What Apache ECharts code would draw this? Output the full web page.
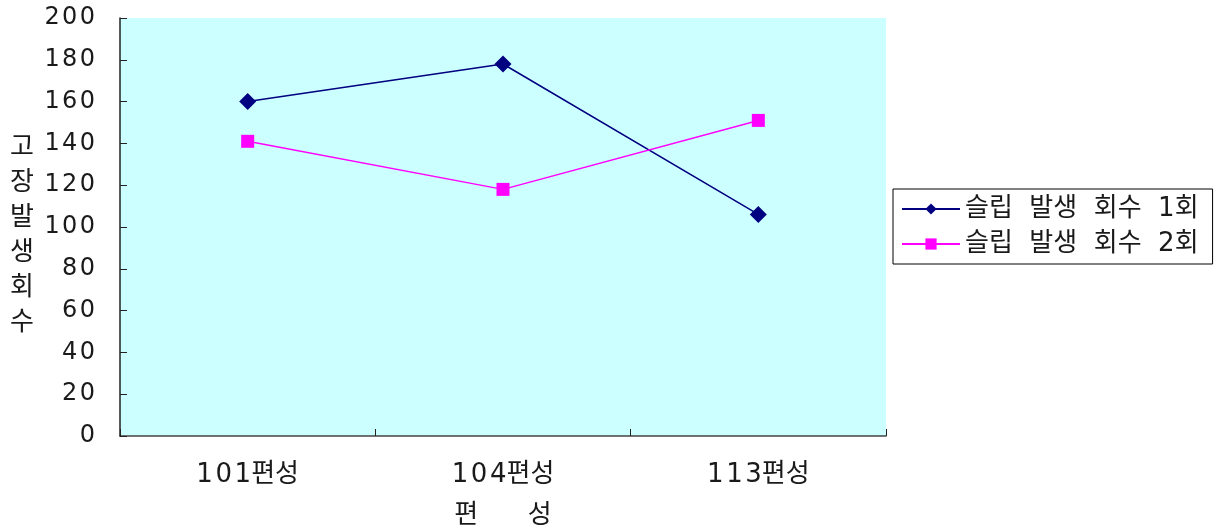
<!DOCTYPE html>
<html>
<head>
<meta charset="utf-8">
<script src="https://cdn.jsdelivr.net/npm/echarts@6/dist/echarts.min.js"></script>
<style>
  html, body { margin: 0; padding: 0; background: #ffffff; }
  #chart { width: 1218px; height: 529px; }
</style>
</head>
<body>
<div id="chart"></div>
<script>
// Failure counts per train set, by number of slip events
const categories = ['101편성', '104편성', '113편성'];
const slipOnce = [160, 178, 106];
const slipTwice = [141, 118, 151];
const seriesNames = ['슬립 발생 회수 1회', '슬립 발생 회수 2회'];
const yTitle = '고장발생회수';
const xTitle = '편      성';

const FONT = "'DejaVu Sans', 'Noto Sans CJK KR', sans-serif";
const spaced = s => String(s).split('').join('\u200A');

const chart = echarts.init(document.getElementById('chart'));
chart.setOption({
  animation: false,
  backgroundColor: '#ffffff',
  textStyle: { fontFamily: FONT, color: '#1a1a1a' },
  grid: {
    left: 120, top: 18, right: 332, bottom: 93,
    outerBoundsMode: 'none',
    containLabel: false,
    show: true, backgroundColor: '#ccffff', borderWidth: 0
  },
  legend: {
    orient: 'vertical',
    left: 893, top: 189,
    padding: [7, 14, 7, 8],
    itemGap: 9,
    itemWidth: 58, itemHeight: 14,
    borderColor: '#000000', borderWidth: 1,
    textStyle: { fontSize: 26, fontFamily: FONT, color: '#1a1a1a' },
    formatter: name => name.split(' ').join('  ')
  },
  graphic: [{
    type: 'text',
    left: 10, top: 128,
    style: {
      text: yTitle.split('').join('\n'),
      font: "26px 'Noto Sans CJK KR', sans-serif",
      lineHeight: 35,
      fill: '#1a1a1a',
      textAlign: 'left'
    }
  }],
  xAxis: {
    type: 'category',
    data: categories,
    boundaryGap: true,
    name: xTitle,
    nameLocation: 'middle',
    nameGap: 67,
    nameTextStyle: { fontSize: 26, fontFamily: FONT, color: '#1a1a1a' },
    axisLine: { show: true, lineStyle: { color: '#444444', width: 1.5 } },
    axisTick: { show: true, inside: true, length: 7, lineStyle: { color: '#222222' } },
    axisLabel: {
      fontSize: 26, margin: 26, color: '#1a1a1a', fontFamily: FONT,
      formatter: v => spaced(v.replace('편성', '')) + '편성'
    },
    splitLine: { show: false }
  },
  yAxis: {
    type: 'value',
    min: 0, max: 200, interval: 20,
    axisLine: { show: true, lineStyle: { color: '#222222', width: 1.5 } },
    axisTick: { show: true, inside: true, length: 7, lineStyle: { color: '#222222' } },
    axisLabel: {
      fontSize: 24, margin: 25, color: '#1a1a1a', fontFamily: FONT,
      formatter: v => spaced(v)
    },
    splitLine: { show: false }
  },
  series: [
    {
      name: seriesNames[0],
      type: 'line',
      data: slipOnce,
      symbol: 'diamond',
      symbolSize: 17,
      color: '#000080',
      lineStyle: { color: '#000080', width: 1.5 },
      itemStyle: { color: '#000080' }
    },
    {
      name: seriesNames[1],
      type: 'line',
      data: slipTwice,
      symbol: 'rect',
      symbolSize: 13,
      color: '#ff00ff',
      lineStyle: { color: '#ff00ff', width: 1.5 },
      itemStyle: { color: '#ff00ff' }
    }
  ]
});
</script>
</body>
</html>
